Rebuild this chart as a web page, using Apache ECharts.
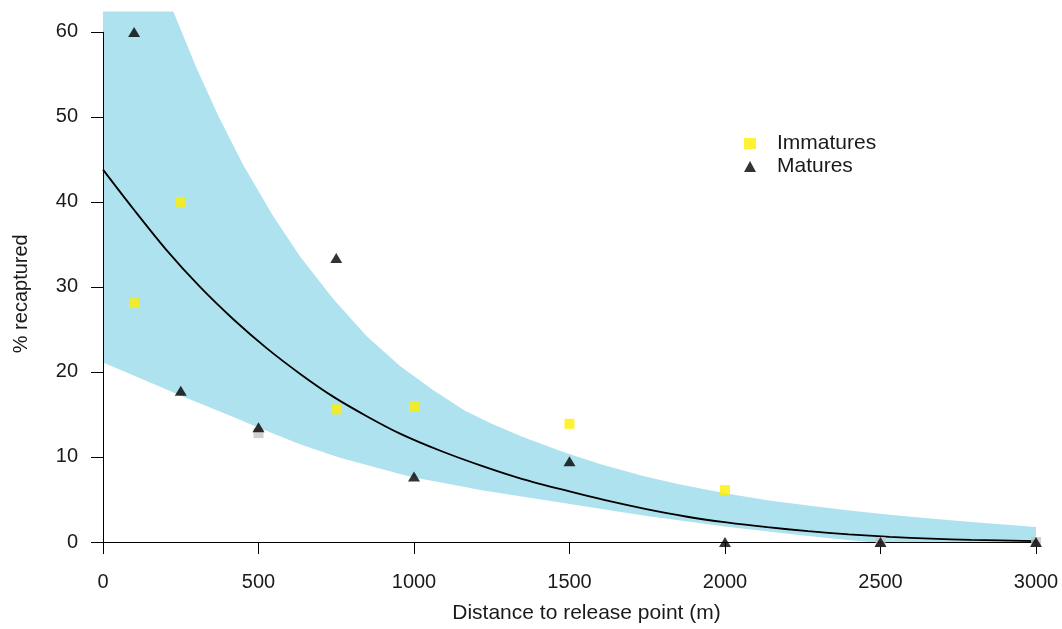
<!DOCTYPE html>
<html><head><meta charset="utf-8">
<script src="https://cdn.jsdelivr.net/npm/echarts@6/dist/echarts.min.js"></script>
<style>html,body{margin:0;padding:0;background:#fff}#c{width:1062px;height:629px}</style>
</head><body><div id="c"></div>
<script>
// ---- data ----
const xTicks = [0, 500, 1000, 1500, 2000, 2500, 3000];
const yTicks = [0, 10, 20, 30, 40, 50, 60];

const immX = [100, 250, 750, 1000, 1500, 2000];
const immY = [28.1, 40.0, 15.6, 16.0, 13.9, 6.1];
// immature points drawn grey (partly hidden under triangles)
const immGreyX = [500, 2500, 3000];
const immGreyY = [12.8, 0, 0];

const matX = [100, 250, 500, 750, 1000, 1500, 2000, 2500, 3000];
const matY = [60.0, 17.8, 13.5, 33.4, 7.7, 9.5, 0, 0, 0];

// fitted curve
const fitX = [0, 97, 205, 312, 419, 526, 633, 740, 848, 955, 1087, 1218, 1349, 1500, 1611, 1743, 1874, 2005, 2136, 2267, 2398, 2530, 2661, 2792, 3000];
const fitY = [43.8, 39.2, 34.3, 30.0, 26.2, 22.8, 19.8, 17.1, 14.8, 12.75, 10.7, 8.95, 7.4, 5.95, 4.95, 3.9, 3.0, 2.3, 1.74, 1.28, 0.9, 0.6, 0.4, 0.25, 0.1];

// confidence band, upper edge (values above the plot top are clipped)
const upX = [0, 100, 200, 226, 300, 371, 450, 546, 633, 740, 848, 955, 1060, 1161, 1250, 1350, 1480, 1600, 1743, 1852, 2005, 2136, 2267, 2400, 2530, 2661, 2792, 3000];
const upY = [88, 75.6, 64.9, 62.4, 55.8, 50.1, 44.4, 38.4, 33.6, 28.6, 24.2, 20.7, 17.9, 15.5, 13.9, 12.35, 10.6, 9.15, 7.7, 6.8, 5.7, 4.9, 4.3, 3.7, 3.2, 2.75, 2.35, 1.75];
// confidence band, lower edge
const loX = [0, 97, 251, 419, 503, 633, 762, 955, 1000, 1087, 1218, 1480, 1743, 2005, 2267, 2460, 3000];
const loY = [21.1, 19.6, 17.2, 14.7, 13.4, 11.5, 9.9, 8.0, 7.6, 7.0, 6.1, 4.6, 3.1, 1.8, 0.7, 0.0, 0.0];

const yMax = 62.4;

// ---- chart ----
const zip = (a, b) => a.map((v, i) => [v, b[i]]);
const FONT = 'Liberation Sans, Arial, sans-serif';
const TXT = '#1a1a1a';
const chart = echarts.init(document.getElementById('c'), null, {renderer: 'canvas'});

chart.setOption({
  animation: false,
  backgroundColor: '#fff',
  grid: {left: 103, right: 26, top: 11.5, bottom: 86, containLabel: false},
  legend: {
    orient: 'vertical', left: 744, top: 133, itemGap: 2, padding: 0,
    itemWidth: 12, itemHeight: 11,
    textStyle: {fontFamily: FONT, fontSize: 21, color: TXT, padding: [0, 0, 0, 16]},
    data: [
      {name: 'Immatures', icon: 'rect', itemStyle: {color: '#FFEF00'}},
      {name: 'Matures', icon: 'triangle', itemStyle: {color: '#000'}}
    ]
  },
  xAxis: {
    type: 'value', min: xTicks[0], max: xTicks[xTicks.length - 1], interval: 500,
    z: 3,
    name: 'Distance to release point (m)', nameLocation: 'middle', nameGap: 61,
    nameTextStyle: {fontFamily: FONT, fontSize: 21, color: TXT, padding: [0, 0, 0, 34]},
    axisLine: {show: true, lineStyle: {color: '#000', width: 1}},
    axisTick: {show: true, length: 12, lineStyle: {color: '#000'}, customValues: xTicks},
    axisLabel: {fontFamily: FONT, fontSize: 20, color: TXT, margin: 30, customValues: xTicks,
      formatter: v => String(v)},
    splitLine: {show: false}
  },
  yAxis: {
    type: 'value', min: 0, max: yMax,
    name: '% recaptured', nameLocation: 'middle', nameGap: 72,
    nameTextStyle: {fontFamily: FONT, fontSize: 20, color: TXT, padding: [0, 34, 0, 0]},
    axisLine: {show: false},
    axisTick: {show: true, length: 12, lineStyle: {color: '#000'}, customValues: yTicks},
    axisLabel: {fontFamily: FONT, fontSize: 20, color: TXT, margin: 25, customValues: yTicks,
      formatter: v => String(v)},
    splitLine: {show: false}
  },
  series: [
    {
      type: 'custom', name: 'band', silent: true, z: 1,
      data: [[0, 0]],
      renderItem: function (params, api) {
        const pts = [];
        for (let i = 0; i < upX.length; i++) pts.push(api.coord([upX[i], upY[i]]));
        for (let i = loX.length - 1; i >= 0; i--) pts.push(api.coord([loX[i], loY[i]]));
        const cs = params.coordSys;
        return {
          type: 'polygon', shape: {points: pts},
          style: {fill: '#AEE2EE', stroke: null},
          clipPath: {type: 'rect', shape: {x: cs.x, y: cs.y, width: cs.width, height: cs.height}}
        };
      }
    },
    {
      type: 'line', name: 'fit', z: 2, silent: true,
      data: zip(fitX, fitY), smooth: 0.3, showSymbol: false, symbol: 'none',
      lineStyle: {color: '#000', width: 1.8},
      markLine: {
        silent: true, symbol: 'none', label: {show: false},
        lineStyle: {color: '#000', width: 1, type: 'solid'},
        data: [[{coord: [xTicks[0], yTicks[0]]}, {coord: [xTicks[0], yTicks[yTicks.length - 1]]}]]
      }
    },
    {
      type: 'scatter', name: 'Immatures (grey)', z: 4, silent: true,
      data: zip(immGreyX, immGreyY), symbol: 'rect', symbolSize: 10,
      itemStyle: {color: '#C4C4C4'}
    },
    {
      type: 'scatter', name: 'Immatures', z: 5, silent: true,
      data: zip(immX, immY), symbol: 'rect', symbolSize: 10,
      itemStyle: {color: '#FFEF00'}
    },
    {
      type: 'scatter', name: 'Matures', z: 6, silent: true,
      data: zip(matX, matY), symbol: 'triangle', symbolSize: [12, 10],
      itemStyle: {color: '#000'}
    }
  ]
});
</script>
</body></html>
